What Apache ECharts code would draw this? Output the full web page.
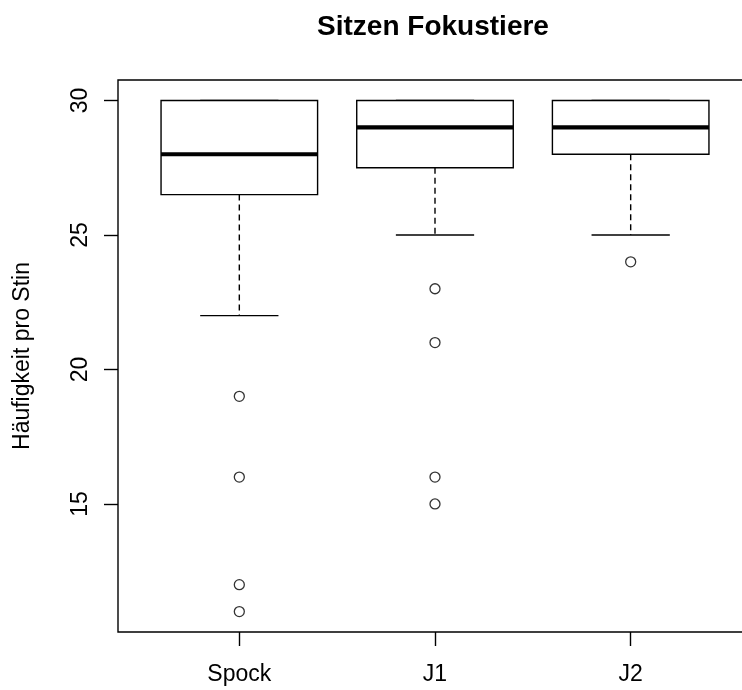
<!DOCTYPE html>
<html>
<head>
<meta charset="utf-8">
<title>Sitzen Fokustiere</title>
<script src="https://cdn.jsdelivr.net/npm/echarts@6/dist/echarts.min.js"></script>
<style>
  html, body { margin: 0; padding: 0; background: #fff; }
  #chart { width: 742px; height: 690px; }
</style>
</head>
<body>
<div id="chart"></div>
<script>
// Five-number summaries per group
const categories = ['Spock', 'J1', 'J2'];
const lowerWhisker = [22, 25, 25];
const q1 = [26.5, 27.5, 28];
const median = [28, 29, 29];
const q3 = [30, 30, 30];
const upperWhisker = [30, 30, 30];
// Points beyond the whiskers
const outliers = [
  [19, 16, 12, 11],
  [23, 21, 16, 15],
  [24]
];
const yTicks = [15, 20, 25, 30];

const FONT = '"Liberation Sans", Arial, sans-serif';
const INK = '#000';

const boxData = categories.map((c, i) =>
  [i + 1, lowerWhisker[i], q1[i], median[i], q3[i], upperWhisker[i]]);
const outlierData = [];
outliers.forEach((vals, i) => vals.forEach(v => outlierData.push([i + 1, v])));

const BOX_W = 0.8, CAP_W = 0.4;

function renderBox(params, api) {
  const x = api.value(0);
  const lo = api.value(1), a = api.value(2), m = api.value(3), b = api.value(4), hi = api.value(5);
  const pL = api.coord([x - BOX_W / 2, b]);
  const pR = api.coord([x + BOX_W / 2, a]);
  const cL = api.coord([x - CAP_W / 2, lo])[0];
  const cR = api.coord([x + CAP_W / 2, lo])[0];
  const cx = api.coord([x, m])[0];
  const yLo = api.coord([x, lo])[1];
  const yHi = api.coord([x, hi])[1];
  const yA = api.coord([x, a])[1];
  const yB = api.coord([x, b])[1];
  const yM = api.coord([x, m])[1];
  const thin = { stroke: INK, lineWidth: 1.4, fill: null };
  const dashed = { stroke: INK, lineWidth: 1.4, lineDash: [6, 4] };
  return {
    type: 'group',
    children: [
      { type: 'line', shape: { x1: cx, y1: yA, x2: cx, y2: yLo }, style: dashed },
      { type: 'line', shape: { x1: cx, y1: yB, x2: cx, y2: yHi }, style: dashed },
      { type: 'line', shape: { x1: cL, y1: yLo, x2: cR, y2: yLo }, style: thin },
      { type: 'line', shape: { x1: cL, y1: yHi, x2: cR, y2: yHi }, style: thin },
      { type: 'rect', shape: { x: pL[0], y: pL[1], width: pR[0] - pL[0], height: pR[1] - pL[1] },
        style: { stroke: INK, lineWidth: 1.4, fill: '#fff' } },
      { type: 'line', shape: { x1: pL[0], y1: yM, x2: pR[0], y2: yM },
        style: { stroke: INK, lineWidth: 4.2 } }
    ]
  };
}

const chart = echarts.init(document.getElementById('chart'), null, { renderer: 'canvas' });
chart.setOption({
  backgroundColor: '#fff',
  animation: false,
  textStyle: { fontFamily: FONT, color: INK },
  grid: {
    left: 118, top: 80, width: 634, height: 552,
    show: true, borderColor: INK, borderWidth: 1.4, backgroundColor: 'transparent',
    containLabel: false, outerBoundsMode: 'none'
  },
  graphic: [{
    type: 'text', x: 433, y: 27,
    style: {
      text: 'Sitzen Fokustiere', fontFamily: FONT, fontWeight: 'bold', fontSize: 28,
      fill: INK, textAlign: 'center', textVerticalAlign: 'middle'
    }
  }],
  xAxis: {
    type: 'value', min: 0.38, max: 3.62,
    splitLine: { show: false },
    axisLine: { show: false },
    axisTick: { show: true, length: 14, customValues: [1, 2, 3],
      lineStyle: { color: INK, width: 1.4 } },
    axisLabel: { show: true, customValues: [1, 2, 3], margin: 31,
      fontFamily: FONT, fontSize: 23, color: INK,
      formatter: v => categories[Math.round(v) - 1] || '' }
  },
  yAxis: {
    type: 'value', min: 10.24, max: 30.76,
    name: 'Häufigkeit pro Stin', nameLocation: 'middle', nameGap: 84, nameRotate: 90,
    nameTextStyle: { fontFamily: FONT, fontSize: 23, color: INK },
    splitLine: { show: false },
    axisLine: { show: false },
    axisTick: { show: true, length: 14, customValues: yTicks,
      lineStyle: { color: INK, width: 1.4 } },
    axisLabel: { show: true, customValues: yTicks, rotate: 90, margin: 26,
      fontFamily: FONT, fontSize: 23, color: INK }
  },
  series: [
    {
      type: 'custom', name: 'box', renderItem: renderBox,
      data: boxData, encode: { x: 0, y: [1, 2, 3, 4, 5] }, z: 2
    },
    {
      type: 'scatter', name: 'outliers', data: outlierData,
      symbol: 'circle', symbolSize: 10,
      itemStyle: { color: '#fff', borderColor: INK, borderWidth: 1.3 }, z: 3
    }
  ]
});
</script>
</body>
</html>
